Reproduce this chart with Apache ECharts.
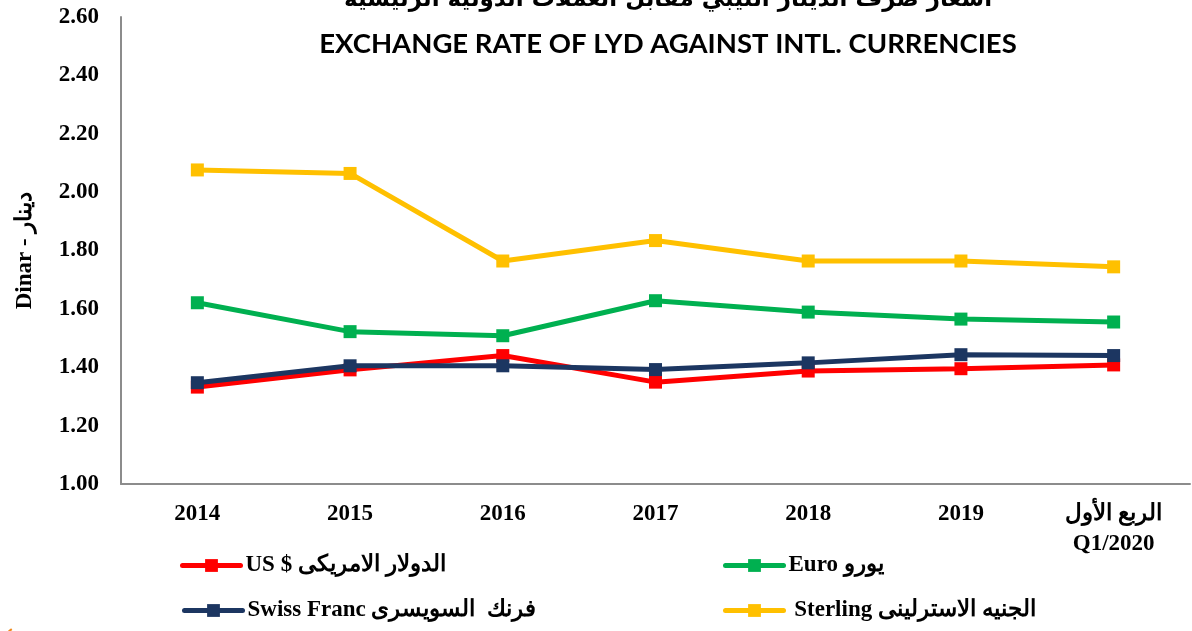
<!DOCTYPE html>
<html>
<head>
<meta charset="utf-8">
<script src="https://cdn.jsdelivr.net/npm/echarts@6/dist/echarts.min.js"></script>
<style>
html,body{margin:0;padding:0;background:#fff;}
#chart{width:1192px;height:631px;}
</style>
</head>
<body>
<div id="chart"></div>
<script>
var categories = ['2014', '2015', '2016', '2017', '2018', '2019', 'الربع الأول\nQ1/2020'];
var usd = [1.332, 1.391, 1.440, 1.349, 1.387, 1.395, 1.408];
var euro = [1.621, 1.522, 1.508, 1.628, 1.589, 1.565, 1.555];
var swiss = [1.347, 1.405, 1.405, 1.392, 1.415, 1.443, 1.440];
var sterling = [2.076, 2.064, 1.764, 1.834, 1.764, 1.764, 1.744];
var seriesNames = ['US $ الدولار الامريكى', 'Euro يورو', 'Swiss Franc فرنك  السويسرى', ' Sterling الجنيه الاسترلينى'];
var yTicks = { min: 1.0, max: 2.6, interval: 0.2 };
var titleEn = 'EXCHANGE RATE OF LYD AGAINST INTL. CURRENCIES';
var titleAr = 'أسعار صرف الدينار الليبي مقابل العملات الدولية الرئيسية';
var yName = 'Dinar - دينار';

var serif = '"Liberation Serif", "DejaVu Serif", serif';
var colors = ['#FF0000', '#00B050', '#1C3661', '#FFC000'];
var dataSets = [usd, euro, swiss, sterling];
var fs = 23;

function mkSeries(i) {
  return {
    name: seriesNames[i],
    type: 'line',
    data: dataSets[i],
    symbol: 'rect',
    symbolSize: 13,
    lineStyle: { width: 5, color: colors[i] },
    itemStyle: { color: colors[i] },
    emphasis: { disabled: true },
    z: [3, 4, 5, 2][i]
  };
}
function mkLegend(i, left, top) {
  return {
    data: [seriesNames[i]],
    left: left, top: top,
    itemWidth: 58, itemHeight: 16,
    padding: 0,
    selectedMode: false,
    lineStyle: { width: 5, cap: 'round' },
    textStyle: { fontFamily: serif, fontWeight: 'bold', fontSize: fs, color: '#000' }
  };
}

var chart = echarts.init(document.getElementById('chart'), null, { renderer: 'canvas' });
chart.setOption({
  animation: false,
  backgroundColor: '#fff',
  grid: { left: 121, right: 2, top: 17, bottom: 147, containLabel: false },
  legend: [
    mkLegend(0, 180, 554),
    mkLegend(1, 723, 554),
    mkLegend(2, 182, 599),
    mkLegend(3, 723, 599)
  ],
  xAxis: {
    type: 'category',
    data: categories,
    boundaryGap: true,
    axisLine: { lineStyle: { color: '#8c8c8c', width: 2 } },
    axisTick: { show: false },
    axisLabel: {
      interval: 0,
      margin: 15,
      lineHeight: 30,
      fontFamily: serif, fontWeight: 'bold', fontSize: fs, color: '#000'
    }
  },
  yAxis: {
    type: 'value',
    min: yTicks.min, max: yTicks.max, interval: yTicks.interval,
    name: yName,
    nameLocation: 'middle',
    nameRotate: 90,
    nameGap: 84,
    nameTextStyle: { fontFamily: serif, fontWeight: 'bold', fontSize: fs, color: '#000' },
    axisLine: { show: true, lineStyle: { color: '#8c8c8c', width: 2 } },
    axisTick: { show: false },
    splitLine: { show: false },
    axisLabel: {
      margin: 22,
      formatter: function (v) { return v.toFixed(2); },
      fontFamily: serif, fontWeight: 'bold', fontSize: fs, color: '#000'
    }
  },
  graphic: [
    {
      type: 'text', x: 668, y: 44, z: 10,
      style: { text: titleEn, font: 'bold 27.5px Lato, "Open Sans", sans-serif', fill: '#000', textAlign: 'center', textVerticalAlign: 'middle' }
    },
    {
      type: 'text', x: 668, y: 0, z: 10,
      style: { text: titleAr, font: 'bold 23px "DejaVu Sans", sans-serif', fill: '#000', textAlign: 'center', textVerticalAlign: 'middle' }
    },
    {
      type: 'arc', z: 10,
      shape: { cx: 40, cy: 668, r: 48, startAngle: Math.PI * 1.05, endAngle: Math.PI * 1.3 },
      style: { stroke: '#F08A1C', lineWidth: 2, fill: null }
    }
  ],
  series: [mkSeries(0), mkSeries(1), mkSeries(2), mkSeries(3)]
});
</script>
</body>
</html>
